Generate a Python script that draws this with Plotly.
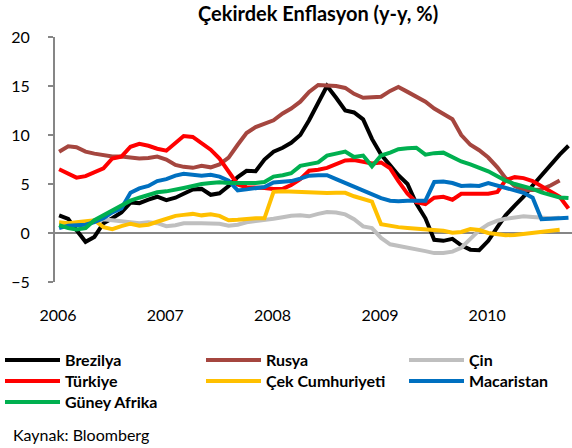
import pandas as pd
import plotly.graph_objects as go

# Monthly core inflation (y-y, %), Jan 2006 onward
months = pd.date_range("2006-01-01", periods=58, freq="MS") + pd.Timedelta(days=14)

brezilya = [1.8, 1.45, 0.3, -0.9, -0.4, 1.0, 1.5, 2.1, 3.1, 3.05,
            3.4, 3.7, 3.35, 3.6, 4.0, 4.45, 4.5, 3.9, 4.05, 4.8,
            5.7, 6.35, 6.3, 7.5, 8.3, 8.7, 9.2, 10.0, 11.5, 13.2,
            15.0, 13.8, 12.5, 12.3, 11.6, 9.6, 8.0, 6.9, 5.9, 5.0,
            3.0, 1.5, -0.7, -0.8, -0.6, -1.25, -1.7, -1.75, -0.8, 0.6,
            1.8, 2.8, 3.7, 4.85, 5.87, 6.98, 8.0, 8.9]
rusya = [8.3, 8.85, 8.75, 8.3, 8.1, 7.95, 7.8, 7.8, 7.7, 7.6,
         7.65, 7.8, 7.5, 6.95, 6.75, 6.65, 6.85, 6.7, 7.0, 7.7,
         9.0, 10.2, 10.8, 11.1, 11.5, 12.2, 12.7, 13.4, 14.4, 15.1,
         15.1, 15.0, 14.8, 14.2, 13.8, 13.8, 13.9, 14.5, 14.9, 14.4,
         13.9, 13.4, 12.7, 12.2, 11.6, 10.0, 9.0, 8.45, 7.7, 6.7,
         5.6, 4.8, 4.4, 4.4, 4.45, 4.85, 5.35]
cin = [1.0, 1.0, 0.9, 1.0, 1.2, 1.4, 1.3, 1.2, 1.1, 1.0,
       1.1, 1.0, 0.7, 0.8, 1.0, 0.95, 1.0, 0.97, 0.95, 0.75,
       0.85, 1.1, 1.2, 1.35, 1.45, 1.6, 1.75, 1.8, 1.7, 1.95,
       2.15, 2.1, 1.9, 1.4, 0.68, 0.5, -0.5, -1.15, -1.3, -1.42,
       -1.65, -1.85, -2.05, -2.05, -1.9, -1.5, -0.6, 0.27, 0.88, 1.25,
       1.45, 1.6, 1.7, 1.63, 1.57, 1.5, 1.55]
turkiye = [6.5, 6.0, 5.65, 5.8, 6.2, 6.6, 7.6, 7.8, 8.8, 9.1,
           8.9, 8.6, 8.4, 9.2, 9.9, 9.8, 9.1, 8.5, 7.6, 6.3,
           4.95, 4.67, 4.67, 4.6, 4.5, 4.5, 4.9, 5.5, 6.35, 6.45,
           6.65, 7.0, 7.4, 7.45, 7.3, 7.1, 7.2, 6.6, 5.3, 4.0,
           3.15, 2.95, 3.6, 3.7, 3.4, 4.0, 4.0, 3.95, 4.0, 4.2,
           5.4, 5.7, 5.6, 5.3, 4.8, 4.3, 3.7, 2.5]
cek = [1.1, 1.0, 1.1, 1.15, 1.3, 0.6, 0.4, 0.7, 0.95, 0.75,
       0.85, 1.15, 1.4, 1.75, 1.85, 1.95, 1.8, 1.9, 1.75, 1.3,
       1.35, 1.45, 1.5, 1.5, 4.2, 4.25, 4.2, 4.15, 4.1, 4.07,
       4.07, 4.1, 4.1, 3.75, 3.5, 3.2, 0.9, 0.7, 0.6, 0.52,
       0.46, 0.42, 0.35, 0.22, 0.02, 0.1, 0.4, 0.3, 0.0, -0.15,
       -0.23, -0.2, -0.1, -0.05, 0.1, 0.17, 0.33]
macaristan = [0.5, 0.75, 0.8, 0.85, 1.1, 1.5, 2.1, 2.5, 4.1, 4.55,
              4.8, 5.3, 5.5, 5.85, 6.05, 6.0, 5.85, 5.95, 5.75, 5.35,
              4.35, 4.45, 4.6, 4.7, 5.15, 5.25, 5.3, 5.55, 5.85, 5.9,
              5.9, 5.5, 5.1, 4.7, 4.3, 4.0, 3.55, 3.3, 3.25, 3.3,
              3.3, 3.3, 5.2, 5.25, 5.1, 4.8, 4.85, 4.8, 5.1, 4.85,
              4.55, 4.35, 4.1, 3.6, 1.4, 1.45, 1.55, 1.55]
guney_afrika = [0.8, 0.5, 0.35, 0.5, 1.3, 1.8, 2.2, 2.75, 3.3, 3.6,
                3.85, 4.15, 4.25, 4.4, 4.6, 4.8, 5.0, 5.1, 5.18, 5.1,
                5.08, 5.08, 5.1, 5.2, 5.75, 5.9, 6.1, 6.85, 7.05, 7.2,
                7.9, 8.1, 8.3, 7.75, 7.9, 6.8, 7.9, 8.2, 8.55, 8.65,
                8.7, 8.0, 8.15, 8.2, 7.7, 7.3, 7.0, 6.7, 6.3, 5.8,
                5.35, 5.0, 4.8, 4.5, 4.15, 3.85, 3.62, 3.56]

series_names = ["Brezilya", "Rusya", "Çin", "Türkiye", "Çek Cumhuriyeti",
                "Macaristan", "Güney Afrika"]
series_values = [brezilya, rusya, cin, turkiye, cek, macaristan, guney_afrika]
series_colors = ["#000000", "#A5463F", "#BFBFBF", "#FF0000", "#FFC000",
                 "#0070C0", "#00B050"]

year_ticks = ["2006-01-01", "2007-01-01", "2008-01-01", "2009-01-01", "2010-01-01"]
year_labels = ["2006", "2007", "2008", "2009", "2010"]
y_ticks = [-5, 0, 5, 10, 15, 20]

FONT = "Lato, 'Open Sans', sans-serif"
AXIS_GREY = "#868686"
W, H = 572, 448

# legend grid: three columns, filled row by row (pixel anchors)
LEG_COLS = [6, 207, 410]
LEG_ROWS = [360, 381, 402]

fig = go.Figure()
legend_layouts = {}
legend_font = dict(family=FONT, size=16, color="#000000", weight="bold")
for k, (name, vals, col) in enumerate(zip(series_names, series_values, series_colors)):
    leg_id = "legend" if k == 0 else f"legend{k + 1}"
    fig.add_trace(go.Scatter(
        x=months[:len(vals)], y=vals, name=name, mode="lines",
        line=dict(color=col, width=4), legend=leg_id,
    ))
    px = LEG_COLS[k % 3]
    py = LEG_ROWS[k // 3]
    legend_layouts[leg_id] = dict(
        orientation="v", xref="container", yref="container",
        x=(px - 6) / W, y=1 - py / H, xanchor="left", yanchor="middle",
        itemwidth=55, font=legend_font, bgcolor="rgba(0,0,0,0)",
        tracegroupgap=0,
    )

fig.update_layout(
    width=W, height=H,
    margin=dict(l=55, r=0, t=37, b=166, autoexpand=False),
    paper_bgcolor="white", plot_bgcolor="white",
    font=dict(family=FONT, size=16, color="#000000"),
    title=dict(text="<b>Çekirdek Enflasyon (y-y, %)</b>",
               x=0.509, xref="paper", xanchor="center",
               y=1 - 14 / H, yref="container", yanchor="middle",
               font=dict(family=FONT, size=20, color="#000000")),
    xaxis=dict(
        type="date", range=["2006-01-01", "2010-10-27"],
        tickmode="array", tickvals=year_ticks, ticktext=year_labels,
        showline=False, showgrid=False, zeroline=False, ticks="",
        ticklabelstandoff=22, ticklabelshift=3,
        tickfont=dict(family=FONT, size=16, color="#000000"),
    ),
    xaxis2=dict(
        type="date", overlaying="x", matches="x", anchor="free", position=0.2,
        tickmode="array", tickvals=year_ticks,
        showline=False, showgrid=False, zeroline=False,
        ticks="outside", ticklen=6, tickwidth=2, tickcolor=AXIS_GREY,
        showticklabels=False,
    ),
    yaxis=dict(
        range=[-5, 20], tickmode="array", tickvals=y_ticks,
        showline=True, linecolor=AXIS_GREY, linewidth=2,
        ticks="outside", ticklen=5, tickwidth=2, tickcolor=AXIS_GREY,
        showgrid=False, zeroline=True, zerolinecolor=AXIS_GREY, zerolinewidth=2,
        ticklabelstandoff=15,
        tickfont=dict(family=FONT, size=16, color="#000000"),
    ),
    showlegend=True,
    **legend_layouts,
)

fig.add_annotation(
    text="Kaynak: Bloomberg", xref="paper", yref="paper",
    x=(11 - 55) / 517, y=(282 - 434) / 245, xanchor="left", yanchor="middle",
    showarrow=False, font=dict(family=FONT, size=16, color="#000000"),
)

fig.write_html("out.html", config={"displayModeBar": False},
               post_script="document.body.style.margin='0px';")
